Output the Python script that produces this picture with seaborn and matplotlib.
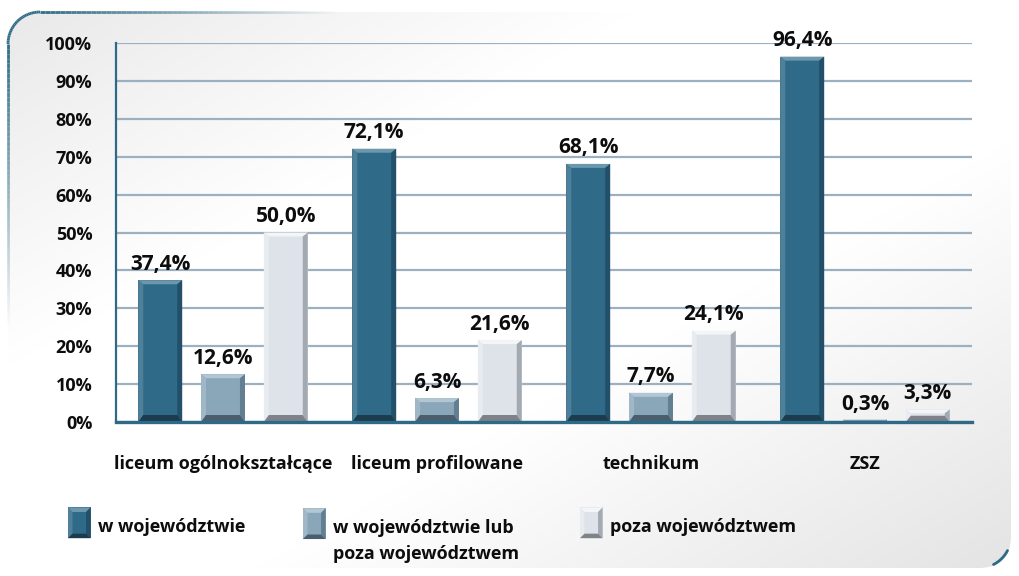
import numpy as np
import pandas as pd
import matplotlib
matplotlib.use("Agg")
import matplotlib.pyplot as plt
import seaborn as sns
from matplotlib.patches import Polygon, FancyBboxPatch
from matplotlib.collections import LineCollection
from matplotlib.legend_handler import HandlerBase
from matplotlib.patches import Patch

# ---------------- data ----------------
categories = ["liceum ogólnokształcące", "liceum profilowane", "technikum", "ZSZ"]
series_names = ["w województwie", "w województwie lub\npoza województwem", "poza województwem"]
w_wojewodztwie = [37.4, 72.1, 68.1, 96.4]
w_woj_lub_poza = [12.6, 6.3, 7.7, 0.3]
poza_wojewodztwem = [50.0, 21.6, 24.1, 3.3]
yticks = list(range(0, 101, 10))
ytick_labels = [f"{v}%" for v in yticks]

df = pd.DataFrame({
    "kategoria": categories * 3,
    "seria": [series_names[0]] * 4 + [series_names[1]] * 4 + [series_names[2]] * 4,
    "wartosc": w_wojewodztwie + w_woj_lub_poza + poza_wojewodztwem,
})

# ---------------- style ----------------
sns.set_theme(style="white")
plt.rcParams["font.family"] = ["Open Sans", "DejaVu Sans"]
plt.rcParams["font.weight"] = "bold"

body = ["#2f6b88", "#8aa6b9", "#dde3e9"]
shades = [  # top, left, right, bottom
    ("#6d97ac", "#4e8099", "#22506a", "#1c3c4d"),
    ("#b2c6d3", "#a0b7c7", "#627e91", "#4a5e6d"),
    ("#f3f5f7", "#e8ecf0", "#a4aab1", "#7e8389"),
]
palette = dict(zip(series_names, body))
spine_col = "#2e6a87"
grid_col = "#9bb1c1"
text_col = "#0d0d0d"

W, H = 1019, 576
fig = plt.figure(figsize=(W / 100, H / 100), dpi=100)

# ---------------- background panel ----------------
bg = fig.add_axes([0, 0, 1, 1], zorder=-10)
bg.set_xlim(0, W)
bg.set_ylim(H, 0)
bg.axis("off")
xx, yy = np.meshgrid(np.linspace(0, 1, 400), np.linspace(0, 1, 300))
t = (xx + yy) / 2
g = np.ones_like(t)
g = np.where(t < 0.32, 1 - 0.09 * (1 - t / 0.32), g)
g = np.where(t > 0.62, 1 - 0.11 * ((t - 0.62) / 0.38), g)
img = np.dstack([g, g, g])
panel = FancyBboxPatch((8, 12), W - 16, H - 20, boxstyle="round,pad=0,rounding_size=32",
                       facecolor="none", edgecolor="none", transform=bg.transData)
bg.add_patch(panel)
im = bg.imshow(img, extent=(0, W, H, 0), aspect="auto", interpolation="bilinear")
im.set_clip_path(panel)

# fading blue border on the top-left corner
r = 32
pts = []
for yv in np.linspace(330, 12 + r, 60):
    pts.append((8, yv))
for a in np.linspace(np.pi, 1.5 * np.pi, 30):
    pts.append((8 + r + r * np.cos(a), 12 + r + r * np.sin(a)))
for xv in np.linspace(8 + r, 340, 60):
    pts.append((xv, 12))
pts = np.array(pts)
segs = np.stack([pts[:-1], pts[1:]], axis=1)
n = len(segs)
alph = np.concatenate([np.linspace(0, 1, 60), np.ones(29), np.linspace(1, 0, n - 89)])
cols = [(0.18, 0.42, 0.53, a) for a in alph]
bg.add_collection(LineCollection(segs, colors=cols, linewidths=2))
ang = np.linspace(0.15 * np.pi, 0.35 * np.pi, 10)
br = np.array([(W - 8 - r + r * np.cos(a), H - 8 - r + r * np.sin(a)) for a in ang])
bg.plot(br[:, 0], br[:, 1], color=spine_col, lw=2)

# ---------------- main axes ----------------
ax = fig.add_axes([116 / W, 1 - 422 / H, (972 - 116) / W, (422 - 43) / H])
ax.patch.set_alpha(0)
sns.barplot(data=df, x="kategoria", y="wartosc", hue="seria", hue_order=series_names,
            order=categories, palette=palette, width=0.88, gap=0.3, saturation=1,
            linewidth=0, edgecolor="none", legend=False, ax=ax, zorder=3)
ax.set_xlim(-0.5, 3.5)
ax.set_ylim(0, 100)
ax.set_axisbelow(True)
ax.set_yticks(yticks)
ax.set_yticklabels(ytick_labels)
ax.yaxis.grid(True, color=grid_col, linewidth=1.6)
ax.xaxis.grid(False)
ax.tick_params(axis="y", length=5, width=1.6, color=grid_col, pad=12, labelsize=13)
ax.tick_params(axis="x", which="major", length=0, pad=24, labelsize=13)
ax.set_xticks(np.arange(-0.5, 4.0, 1.0), minor=True)
ax.tick_params(axis="x", which="minor", length=6, width=2, color=spine_col, direction="out")
for lab in ax.get_xticklabels() + ax.get_yticklabels():
    lab.set_fontweight("bold")
    lab.set_color(text_col)
ax.set_xlabel("")
ax.set_ylabel("")
for s in ["top", "right"]:
    ax.spines[s].set_visible(False)
ax.spines["left"].set_color(spine_col)
ax.spines["left"].set_linewidth(1.6)
ax.spines["bottom"].set_color(spine_col)
ax.spines["bottom"].set_linewidth(2.4)
ax.spines["bottom"].set_zorder(5)

# value labels
for cont, vals in zip(ax.containers, [w_wojewodztwie, w_woj_lub_poza, poza_wojewodztwem]):
    ax.bar_label(cont, labels=[f"{v:.1f}%".replace(".", ",") for v in vals], padding=4,
                 fontsize=15, fontweight="bold", color=text_col, zorder=6)

# bevel decoration derived from each bar's own geometry
fig.canvas.draw()
inv = ax.transData.inverted()
bx, bt, bb = 5, 4, 7  # px
for ci, cont in enumerate(ax.containers):
    top_c, left_c, right_c, bot_c = shades[ci]
    for rect in cont.patches:
        x0, y0 = ax.transData.transform((rect.get_x(), rect.get_y()))
        x1, y1 = ax.transData.transform((rect.get_x() + rect.get_width(), rect.get_y() + rect.get_height()))
        hpx = max(y1 - y0, 2.5)
        y1 = y0 + hpx
        b_t = min(bt, hpx * 0.3)
        b_b = min(bb, hpx * 0.5)
        b_x = min(bx, hpx * 0.5)
        polys = [
            ([(x0, y0), (x1, y0), (x1, y1), (x0, y1)], body[ci]),
            ([(x0, y1), (x1, y1), (x1 - b_x, y1 - b_t), (x0 + b_x, y1 - b_t)], top_c),
            ([(x0, y0), (x0, y1), (x0 + b_x, y1 - b_t), (x0 + b_x, y0 + b_b)], left_c),
            ([(x1, y0), (x1, y1), (x1 - b_x, y1 - b_t), (x1 - b_x, y0 + b_b)], right_c),
            ([(x0, y0), (x1, y0), (x1 - b_x, y0 + b_b), (x0 + b_x, y0 + b_b)], bot_c),
        ]
        for p, c in polys:
            ax.add_patch(Polygon(inv.transform(np.array(p)), closed=True, facecolor=c,
                                 edgecolor="none", zorder=4))


# ---------------- legend ----------------
class BevelHandler(HandlerBase):
    def __init__(self, idx, yoff=0.0):
        super().__init__()
        self.idx = idx
        self.yoff = yoff

    def create_artists(self, legend, orig_handle, xdescent, ydescent, width, height, fontsize, trans):
        x0, y0 = -xdescent, -ydescent + self.yoff
        x1, y1 = x0 + width, y0 + height + ydescent
        b = width * 0.2
        top_c, left_c, right_c, bot_c = shades[self.idx]
        arts = [Polygon([(x0, y0), (x1, y0), (x1, y1), (x0, y1)], facecolor=body[self.idx], edgecolor="none")]
        for p, c in [
            ([(x0, y1), (x1, y1), (x1 - b, y1 - b), (x0 + b, y1 - b)], top_c),
            ([(x0, y0), (x0, y1), (x0 + b, y1 - b), (x0 + b, y0 + b)], left_c),
            ([(x1, y0), (x1, y1), (x1 - b, y1 - b), (x1 - b, y0 + b)], right_c),
            ([(x0, y0), (x1, y0), (x1 - b, y0 + b), (x0 + b, y0 + b)], bot_c),
        ]:
            arts.append(Polygon(p, facecolor=c, edgecolor="none"))
        for a in arts:
            a.set_transform(trans)
        return arts


leg_pos = [(68, 526), (303, 541), (580, 526)]
for i, name in enumerate(series_names):
    h = Patch(facecolor=body[i])
    yoff = 11.0 if "\n" in name else 0.0
    leg = fig.legend([h], [name], loc="center left",
                     bbox_to_anchor=(leg_pos[i][0] / W, 1 - leg_pos[i][1] / H),
                     frameon=False, handlelength=1.25, handleheight=1.7,
                     handletextpad=0.4, borderpad=0, borderaxespad=0,
                     handler_map={h: BevelHandler(i, yoff)},
                     prop={"weight": "bold", "size": 13})
    for tx in leg.get_texts():
        tx.set_color(text_col)
        tx.set_linespacing(1.55)

fig.savefig("out.png", dpi=100)
